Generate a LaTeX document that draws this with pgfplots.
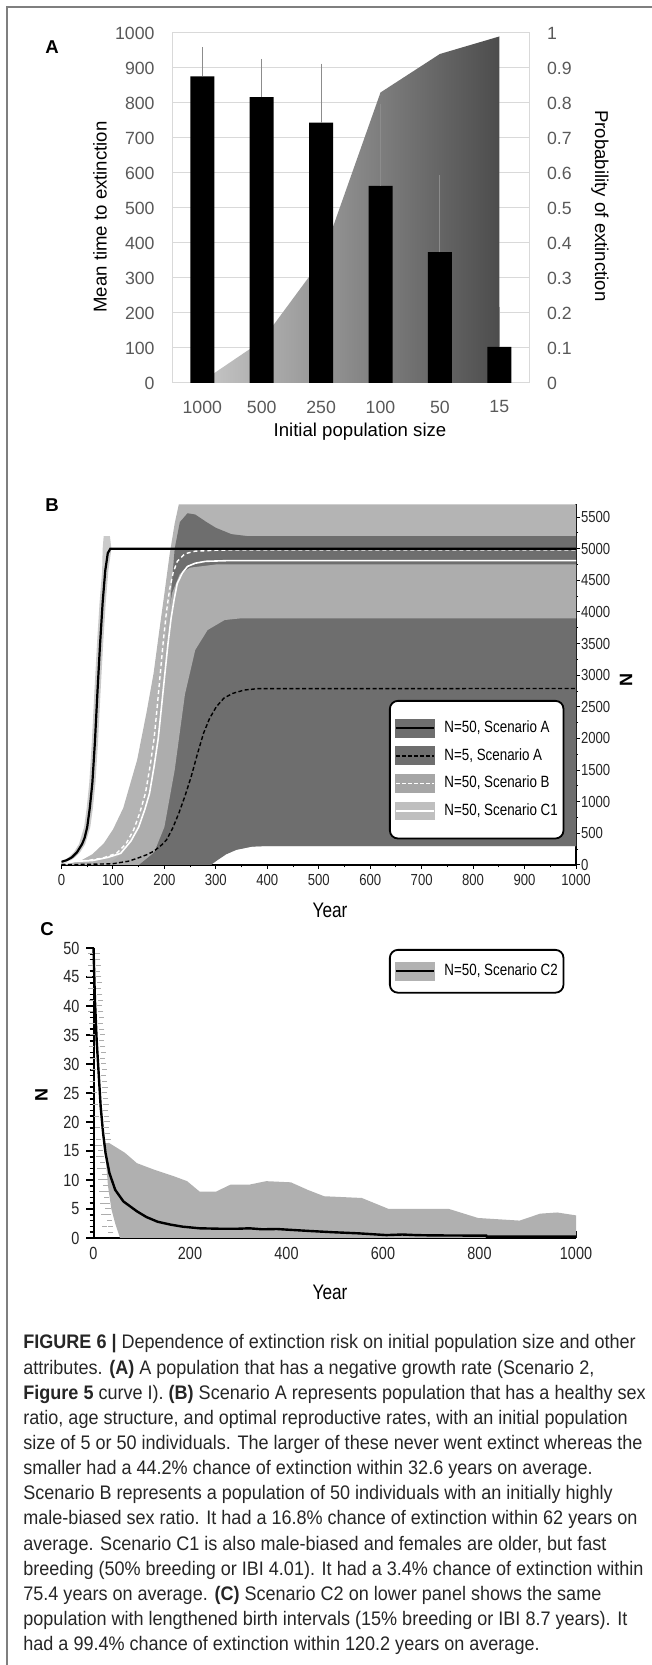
\documentclass[border=0pt]{standalone}
\usepackage{fontspec}
\setmainfont{Liberation Sans}
\newfontfamily\narrow[FakeStretch=0.82]{Liberation Sans}
\newfontfamily\capfont[FakeStretch=0.92]{Liberation Sans}
\usepackage{pgfplots}
\pgfplotsset{compat=1.18}
\definecolor{bdark}{HTML}{6E6E6E}
\definecolor{blight}{HTML}{B4B4B4}
\definecolor{blight2}{HTML}{ADADAD}
\definecolor{bhatch}{HTML}{CACACA}
\definecolor{cgray}{HTML}{B0B0B0}
\definecolor{tickgray}{HTML}{595959}
\definecolor{gridgray}{HTML}{D9D9D9}
\definecolor{framegray}{HTML}{7F7F7F}
\tikzset{capline/.style={anchor=base west, inner sep=0pt, font=\capfont\fontsize{9.8}{12}\selectfont, text=black!85}}
\begin{document}
\begin{tikzpicture}
\path[use as bounding box] (0pt,0pt) rectangle (326pt,832.5pt);
\draw[framegray, line width=1pt] (3.5pt,0pt) -- (3.5pt,829pt) -- (326pt,829pt);

% ---------------- Panel A ----------------
\begin{axis}[at={(86.3pt,641pt)}, anchor=south west, scale only axis,
  width=178.2pt, height=175pt,
  xmin=-0.5, xmax=5.5, ymin=0, ymax=1000,
  xtick={0,1,2,3,4,5}, xticklabels={1000,500,250,100,50,15},
  ytick={0,100,...,1000},
  ymajorgrids, grid style={gridgray, line width=0.5pt},
  axis line style={gridgray, line width=0.5pt},
  major tick length=0pt, tick style={draw=none},
  tick label style={font=\fontsize{8.85}{10}\selectfont, text=tickgray},
  yticklabel style={xshift=-5.5pt},
  xticklabel style={yshift=-5.3pt},
  /pgf/number format/assume math mode=true, /pgf/number format/1000 sep={}]
\addplot[draw=none, forget plot] coordinates {(0,0)};
\end{axis}

\begin{axis}[at={(86.3pt,641pt)}, anchor=south west, scale only axis,
  width=178.2pt, height=175pt,
  xmin=-0.5, xmax=5.5, ymin=0, ymax=1,
  axis y line*=right, axis x line=none,
  ytick={0,0.1,0.2,0.3,0.4,0.5,0.6,0.7,0.8,0.9,1},
  axis line style={gridgray, line width=0.5pt},
  major tick length=0pt, tick style={draw=none},
  tick label style={font=\fontsize{8.85}{10}\selectfont, text=tickgray},
  yticklabel style={xshift=5.5pt},
  /pgf/number format/assume math mode=true]
\addplot[draw=none, left color=black!22, right color=black!70]
  coordinates {(0,0.005) (1,0.12) (2,0.35) (3,0.83) (4,0.94) (5,0.99)} \closedcycle;
\end{axis}

\begin{axis}[at={(86.3pt,641pt)}, anchor=south west, scale only axis,
  width=178.2pt, height=175pt,
  xmin=-0.5, xmax=5.5, ymin=0, ymax=1000, hide axis,
  ybar, bar width=12pt]
\addplot[fill=black, draw=none,
  error bars/.cd, y dir=plus, y explicit,
  error bar style={black!45, line width=0.5pt},
  error mark options={black!45, line width=0.5pt, mark size=1.6pt}]
  coordinates {(0,876) +- (0,74) (1,817) +- (0,100) (2,744) +- (0,159)
               (3,563) +- (0,226) (4,374) +- (0,211) (5,103) +- (0,106)};
\end{axis}

\node[rotate=90, font=\fontsize{9.3}{11}\selectfont] at (50pt,724pt) {Mean time to extinction};
\node[rotate=-90, font=\fontsize{9.3}{11}\selectfont] at (300pt,729.5pt) {Probability of extinction};
\node[font=\fontsize{9.3}{11}\selectfont] at (180pt,616.5pt) {Initial population size};
\node[font=\bfseries\fontsize{9.3}{11}\selectfont] at (26pt,809pt) {A};

% ---------------- Panel B ----------------
\begin{axis}[at={(30.75pt,400pt)}, anchor=south west, scale only axis,
  width=257.25pt, height=180.3pt,
  xmin=0, xmax=1000, ymin=0, ymax=5700,
  axis x line*=bottom, axis y line*=right,
  axis line style={black, line width=0.7pt},
  xtick={0,100,...,1000}, minor x tick num=1,
  ytick={0,500,...,5500}, minor y tick num=1,
  tick align=outside, major tick length=2pt, minor tick length=1.2pt,
  tick style={black, line width=0.5pt},
  tick label style={font=\narrow\fontsize{8}{9}\selectfont, text=black!85},
  xticklabel style={inner sep=2.5pt},
  yticklabel style={inner sep=0.3pt},
  /pgf/number format/assume math mode=true, /pgf/number format/1000 sep={},
  legend cell align=left,
  legend style={at={(rel axis cs:0.6365,0.4576)}, anchor=north west,
    draw=black, line width=0.9pt, rounded corners=4pt, fill=white,
    inner xsep=2.5pt, inner ysep=9pt, row sep=4.4pt,
    font=\narrow\fontsize{8.15}{9}\selectfont, nodes={inner sep=0pt},
    /tikz/every odd column/.append style={column sep=4.8pt}}]
% light outer band
\addplot[fill=blight, draw=none, forget plot] coordinates {
 (0,0) (290,0) (300,60) (320,170) (340,240) (370,290) (400,300) (1000,300)
 (1000,5700) (228,5700) (220,5400) (210,4900) (200,4290) (190,3700) (179,3030)
 (165,2400) (147,1660) (120,900) (100,560) (82,340) (60,170) (40,80) (20,30)} -- cycle;
% dark band (N=5, Scenario A)
\addplot[fill=bdark, draw=none, forget plot] coordinates {
 (130,0) (290,0) (300,60) (320,170) (340,240) (370,290) (400,300) (1000,300)
 (1000,5200) (360,5200) (330,5230) (300,5330) (280,5430) (260,5540) (245,5560)
 (230,5420) (220,5000) (213,4300) (205,3200) (195,2000) (180,900) (160,300)} -- cycle;
% inner light band
\addplot[fill=blight2, draw=none, forget plot] coordinates {
 (90,0) (150,0) (180,200) (200,600) (220,1500) (240,2700) (260,3400) (284,3714)
 (317,3872) (350,3900) (1000,3900) (1000,4750) (300,4750) (250,4700) (230,4600)
 (215,4300) (205,3800) (195,3000) (185,2200) (170,1300) (150,600) (120,200)} -- cycle;
% N=50 Scenario A spread
\addplot[fill=bhatch, draw=none, forget plot] coordinates {
 (0,0) (0,60) (4,75) (14,120) (24,200) (34,330) (44,600) (49,900) (54,1300)
 (59,1950) (64,2750) (69,3500) (74,4150) (79,4650) (80,5000) (82,5200) (94,5200)
 (97,5000) (91,4650) (86,4150) (81,3500) (76,2750) (71,1950) (66,1300) (61,900)
 (56,600) (46,330) (36,200) (26,120) (16,60) (6,20)} -- cycle;
% means
\addplot[white, line width=0.8pt, forget plot] coordinates {
 (0,50) (60,70) (90,120) (115,184) (135,380) (150,600) (162,880) (171,1130)
 (180,1560) (188,2000) (195,2550) (201,3030) (207,3500) (213,3900) (219,4200)
 (225,4450) (235,4620) (245,4720) (260,4770) (280,4800) (320,4810) (1000,4810)};
\addplot[white, line width=0.7pt, dash pattern=on 2pt off 1.5pt, forget plot] coordinates {
 (0,50) (50,70) (80,110) (107,184) (125,330) (140,550) (152,820) (163,1130)
 (172,1550) (180,2000) (186,2500) (192,3030) (198,3550) (204,4000) (210,4350)
 (217,4620) (225,4800) (240,4920) (260,4960) (300,4975) (333,4980) (1000,4980)};
\addplot[black, line width=0.7pt, dash pattern=on 2pt off 1.2pt, forget plot] coordinates {
 (0,5) (50,10) (100,20) (130,60) (147,105) (165,160) (180,220) (195,320) (204,395)
 (216,580) (228,817) (240,1090) (252,1396) (264,1750) (276,2081) (288,2320)
 (301,2502) (316,2640) (333,2713) (355,2765) (381,2787) (1000,2790)};
\addplot[black, line width=1.1pt, forget plot] coordinates {
 (0,50) (10,75) (20,120) (30,200) (40,330) (45,430) (50,600) (55,900) (60,1300)
 (65,1950) (70,2750) (75,3500) (80,4150) (85,4650) (90,4930) (95,5000) (1000,5000)};
\addlegendimage{legend image code/.code={
  \fill[bdark, sharp corners] (0pt,-4.25pt) rectangle (19pt,4.25pt);
  \draw[black, line width=1pt, sharp corners] (0pt,0pt) -- (19pt,0pt);}}
\addlegendentry{\makebox[57pt][l]{N=50, Scenario A}}
\addlegendimage{legend image code/.code={
  \fill[bdark, sharp corners] (0pt,-4.25pt) rectangle (19pt,4.25pt);
  \draw[black, line width=1pt, dash pattern=on 2pt off 1pt, sharp corners] (0pt,0pt) -- (19pt,0pt);}}
\addlegendentry{N=5, Scenario A}
\addlegendimage{legend image code/.code={
  \fill[black!35, sharp corners] (0pt,-4.25pt) rectangle (19pt,4.25pt);
  \draw[white, line width=0.8pt, dash pattern=on 2pt off 1pt, sharp corners] (0pt,0pt) -- (19pt,0pt);}}
\addlegendentry{N=50, Scenario B}
\addlegendimage{legend image code/.code={
  \fill[black!25, sharp corners] (0pt,-4.25pt) rectangle (19pt,4.25pt);
  \draw[white, line width=0.8pt, sharp corners] (0pt,0pt) -- (19pt,0pt);}}
\addlegendentry{N=50, Scenario C1}
\end{axis}

\node[font=\narrow\fontsize{10.5}{12}\selectfont] at (165pt,377.5pt) {Year};
\node[rotate=-90, font=\bfseries\fontsize{9}{11}\selectfont] at (313pt,492.5pt) {N};
\node[font=\bfseries\fontsize{9.3}{11}\selectfont] at (26pt,580pt) {B};

% ---------------- Panel C ----------------
\begin{axis}[at={(46.75pt,213.5pt)}, anchor=south west, scale only axis,
  width=241.25pt, height=145pt,
  xmin=0, xmax=1000, ymin=0, ymax=50, clip=false,
  axis x line*=bottom, axis y line*=left,
  axis line style={black, line width=1pt},
  xtick={0,100,...,1000}, xticklabels={0,,200,,400,,600,,800,,1000},
  ytick={0,5,...,50}, minor y tick num=4,
  tick align=outside, major tick length=3.5pt, minor tick length=2pt,
  tick style={black, line width=0.8pt},
  xtick style={yshift=3.5pt},
  tick label style={font=\narrow\fontsize{8.8}{10}\selectfont, text=black!85},
  xticklabel style={inner sep=1pt},
  /pgf/number format/assume math mode=true,
  legend cell align=left,
  legend style={at={(rel axis cs:0.6124,0.9966)}, anchor=north west,
    draw=black, line width=0.9pt, rounded corners=4pt, fill=white,
    inner xsep=2.5pt, inner ysep=6pt,
    font=\narrow\fontsize{8.15}{9}\selectfont, nodes={inner sep=0pt},
    /tikz/every odd column/.append style={column sep=4.8pt}}]
\addplot[fill=cgray, draw=none, forget plot] coordinates {
 (55,0) (45,2.5) (37,5) (30,9) (26,13) (22,16.3) (32,16.4) (65,14.7) (90,12.9)
 (125,11.8) (168,10.6) (194,9.8) (220,8.0) (254,8.0) (284,9.2) (323,9.2) (358,9.8)
 (409,9.6) (444,8.3) (478,7.2) (556,6.9) (612,5.0) (737,5.0) (797,3.45) (883,3.0)
 (926,4.2) (961,4.4) (1000,3.9) (1000,0)} -- cycle;
\addplot[only marks, mark=-, mark size=1.3pt, mark options={black!32, line width=0.5pt}, forget plot] coordinates {
 (8,49) (9,48) (10,47) (8,46) (11,45) (12,44) (10,43) (13,42) (14,41) (12,40)
 (15,39) (16,38) (14,37) (17,36) (18,35) (16,34) (19,33) (20,32) (18,31) (21,30)
 (22,29) (20,28) (23,27) (24,26) (22,25) (25,24) (26,23) (24,22) (27,21) (28,20)
 (26,19) (29,18) (30,17)
 (-7,49) (-6,47) (-8,45) (-5,43) (-4,41) (-6,39) (-3,37) (-2,35) (-4,33) (-1,31)
 (0,29) (-2,27) (2,25) (4,23) (6,21) (9,19) (11,17)
 (12,16) (14,15) (16,14) (18,13) (20,12) (22,11) (24,10) (25,9) (26,8) (27,7)
 (28,6) (30,5) (31,4) (33,3) (35,2) (36,1)
 (8,16) (10,14) (12,12) (14,10) (16,8) (18,6) (20,4) (22,2)};
\addplot[black, line width=1.2pt, forget plot] coordinates {
 (0,50) (3,41) (6.6,34) (10.7,28.4) (14.9,22.6) (20,18) (25,14.6) (33,11.2) (45,8.3)
 (62,6.3) (90,4.6) (110,3.6) (133,2.8) (160,2.3) (185,1.95) (220,1.67) (260,1.6)
 (300,1.6) (323,1.67) (350,1.5) (380,1.55) (409,1.4) (450,1.2) (495,1.0) (550,0.8)
 (607,0.5) (640,0.6) (668,0.5) (700,0.45) (814,0.4) (815,0.23) (1000,0.23)};
\addlegendimage{legend image code/.code={
  \fill[black!30, sharp corners] (0pt,-4.25pt) rectangle (19pt,4.25pt);
  \draw[black, line width=1pt, sharp corners] (0pt,0pt) -- (19pt,0pt);}}
\addlegendentry{\makebox[57pt][l]{N=50, Scenario C2}}
\end{axis}

\node[font=\narrow\fontsize{10.5}{12}\selectfont] at (165pt,186.5pt) {Year};
\node[rotate=90, font=\bfseries\fontsize{9}{11}\selectfont] at (20.75pt,285pt) {N};
\node[font=\bfseries\fontsize{9.3}{11}\selectfont] at (23.5pt,368pt) {C};

% ---------------- Caption ----------------
\node[capline] at (11.5pt,158pt) {\textbf{FIGURE 6 |} Dependence of extinction risk on initial population size and other};
\node[capline] at (11.5pt,145.43pt) {attributes. \textbf{(A)} A population that has a negative growth rate (Scenario 2,};
\node[capline] at (11.5pt,132.86pt) {\textbf{Figure 5} curve I). \textbf{(B)} Scenario A represents population that has a healthy sex};
\node[capline] at (11.5pt,120.29pt) {ratio, age structure, and optimal reproductive rates, with an initial population};
\node[capline] at (11.5pt,107.72pt) {size of 5 or 50 individuals. The larger of these never went extinct whereas the};
\node[capline] at (11.5pt,95.15pt) {smaller had a 44.2\% chance of extinction within 32.6 years on average.};
\node[capline] at (11.5pt,82.58pt) {Scenario B represents a population of 50 individuals with an initially highly};
\node[capline] at (11.5pt,70.01pt) {male-biased sex ratio. It had a 16.8\% chance of extinction within 62 years on};
\node[capline] at (11.5pt,57.44pt) {average. Scenario C1 is also male-biased and females are older, but fast};
\node[capline] at (11.5pt,44.87pt) {breeding (50\% breeding or IBI 4.01). It had a 3.4\% chance of extinction within};
\node[capline] at (11.5pt,32.3pt) {75.4 years on average. \textbf{(C)} Scenario C2 on lower panel shows the same};
\node[capline] at (11.5pt,19.73pt) {population with lengthened birth intervals (15\% breeding or IBI 8.7 years). It};
\node[capline] at (11.5pt,7.16pt) {had a 99.4\% chance of extinction within 120.2 years on average.};
\end{tikzpicture}
\end{document}
